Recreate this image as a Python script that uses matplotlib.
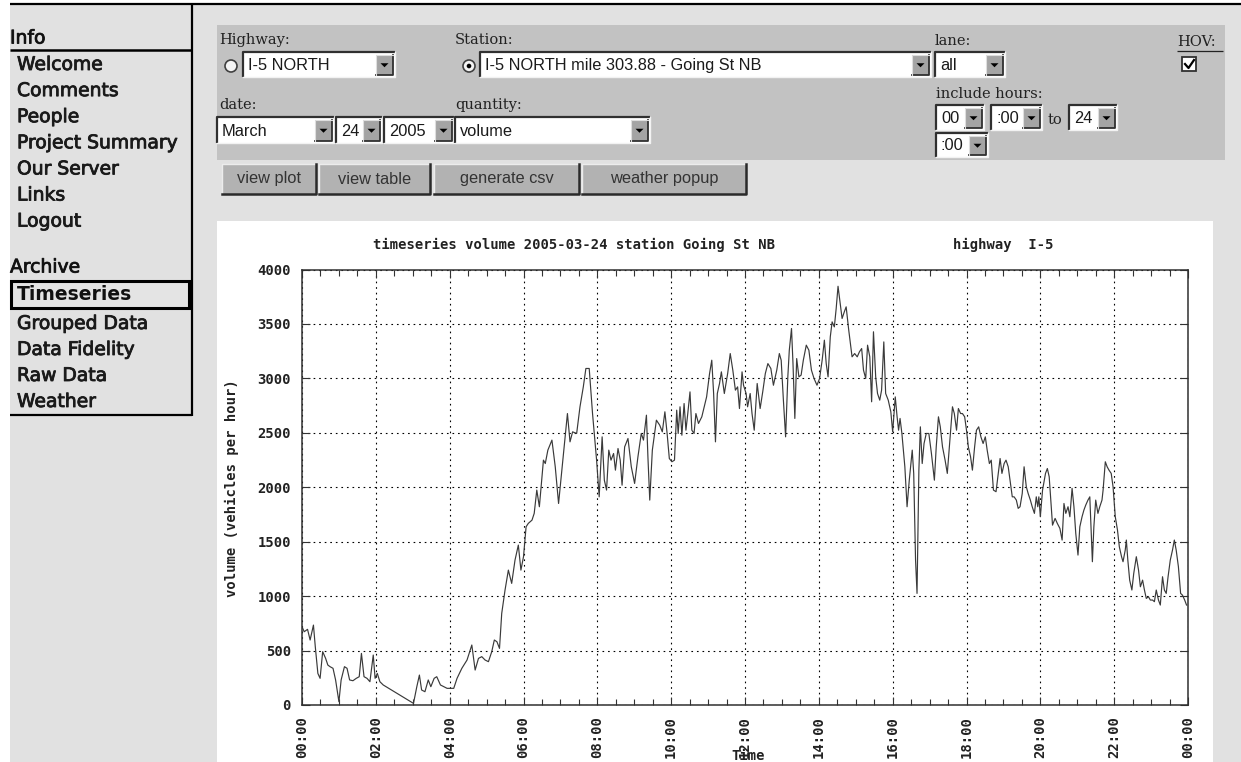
import numpy as np
import matplotlib
matplotlib.use("Agg")
import matplotlib.pyplot as plt
import matplotlib.patheffects as pe
from matplotlib.patches import Rectangle, Circle, Polygon

# ---- time series: hour of day / vehicles per hour
hours = [0.00, 0.06, 0.15, 0.22, 0.31, 0.36, 0.43, 0.49, 0.56, 0.64, 0.70, 0.76, 0.84, 0.91,
         1.00, 1.06, 1.15, 1.22, 1.29, 1.38, 1.47, 1.55, 1.61, 1.68, 1.76, 1.84, 1.93, 1.98,
         2.04, 2.11, 2.20, 3.02, 3.11, 3.18, 3.24, 3.33, 3.42, 3.49, 3.58, 3.65, 3.75, 3.84,
         3.93, 4.02, 4.11, 4.20, 4.33, 4.47, 4.60, 4.69, 4.78, 4.87, 4.96, 5.05, 5.14, 5.21,
         5.28, 5.35, 5.41, 5.50, 5.59, 5.68, 5.77, 5.86, 5.93, 6.00, 6.07, 6.13, 6.23, 6.29,
         6.36, 6.43, 6.54, 6.59, 6.66, 6.77, 6.86, 6.95, 7.04, 7.13, 7.19, 7.26, 7.33, 7.44,
         7.53, 7.62, 7.69, 7.78, 7.87, 7.98, 8.05, 8.13, 8.19, 8.25, 8.31, 8.37, 8.44, 8.49,
         8.56, 8.62, 8.67, 8.74, 8.83, 8.92, 9.01, 9.10, 9.19, 9.25, 9.33, 9.37, 9.42, 9.49,
         9.60, 9.69, 9.76, 9.83, 9.89, 9.95, 10.02, 10.09, 10.15, 10.19, 10.24, 10.29, 10.35,
         10.40, 10.45, 10.51, 10.56, 10.62, 10.67, 10.74, 10.83, 10.96, 11.04, 11.10, 11.15,
         11.20, 11.25, 11.31, 11.36, 11.44, 11.53, 11.60, 11.67, 11.74, 11.80, 11.85, 11.92,
         11.96, 12.03, 12.07, 12.14, 12.19, 12.25, 12.33, 12.41, 12.48, 12.55, 12.62, 12.70,
         12.77, 12.86, 12.93, 12.98, 13.04, 13.10, 13.16, 13.20, 13.26, 13.30, 13.35, 13.40,
         13.46, 13.52, 13.58, 13.66, 13.73, 13.80, 13.87, 13.95, 14.02, 14.09, 14.15, 14.20,
         14.25, 14.31, 14.36, 14.42, 14.47, 14.52, 14.58, 14.63, 14.69, 14.74, 14.81, 14.90,
         14.97, 15.04, 15.10, 15.16, 15.21, 15.27, 15.32, 15.38, 15.43, 15.48, 15.54, 15.59,
         15.65, 15.70, 15.76, 15.81, 15.88, 15.95, 16.00, 16.07, 16.12, 16.16, 16.20, 16.25,
         16.33, 16.39, 16.45, 16.53, 16.57, 16.62, 16.66, 16.71, 16.75, 16.80, 16.85, 16.91,
         16.98, 17.05, 17.13, 17.18, 17.24, 17.29, 17.35, 17.42, 17.48, 17.55, 17.62, 17.67,
         17.73, 17.78, 17.84, 17.89, 17.95, 18.00, 18.05, 18.11, 18.16, 18.22, 18.27, 18.33,
         18.39, 18.45, 18.51, 18.56, 18.62, 18.67, 18.73, 18.80, 18.85, 18.91, 18.96, 19.02,
         19.07, 19.13, 19.18, 19.24, 19.29, 19.35, 19.40, 19.45, 19.51, 19.56, 19.62, 19.67,
         19.73, 19.78, 19.84, 19.89, 19.93, 19.96, 20.00, 20.06, 20.14, 20.19, 20.24, 20.33,
         20.40, 20.46, 20.53, 20.59, 20.64, 20.69, 20.75, 20.80, 20.86, 20.91, 20.96, 21.02,
         21.07, 21.13, 21.18, 21.23, 21.29, 21.34, 21.39, 21.41, 21.45, 21.50, 21.56, 21.61,
         21.67, 21.70, 21.76, 21.81, 21.86, 21.92, 21.97, 22.03, 22.09, 22.14, 22.20, 22.24,
         22.30, 22.33, 22.37, 22.42, 22.48, 22.53, 22.60, 22.66, 22.71, 22.77, 22.82, 22.87,
         22.93, 22.98, 23.04, 23.09, 23.14, 23.20, 23.25, 23.31, 23.36, 23.41, 23.46, 23.52,
         23.58, 23.63, 23.68, 23.74, 23.80, 23.85, 23.91, 23.96]
volume = [719, 673, 695, 597, 734, 535, 290, 245, 490, 428, 367, 352, 337, 230,
          30, 230, 352, 337, 230, 223, 245, 260, 474, 260, 245, 214, 459, 245,
          290, 214, 184, 15, 168, 275, 138, 122, 230, 168, 245, 260, 184, 168,
          153, 153, 153, 245, 337, 413, 551, 321, 428, 444, 413, 398, 490, 597,
          581, 520, 841, 1056, 1239, 1117, 1331, 1469, 1239, 1362, 1637, 1668, 1698, 1760,
          1974, 1821, 2249, 2218, 2341, 2433, 2188, 1851, 2157, 2463, 2677, 2417, 2509, 2494,
          2739, 2922, 3091, 3091, 2677, 2249, 1912, 2463, 2065, 1974, 2341, 2249, 2310, 2157,
          2356, 2249, 2019, 2371, 2448, 2188, 2035, 2280, 2494, 2433, 2662, 2280, 1882, 2341,
          2616, 2570, 2509, 2693, 2494, 2264, 2234, 2249, 2708, 2494, 2739, 2478, 2769,
          2524, 2677, 2876, 2524, 2494, 2677, 2586, 2647, 2830, 3044, 3167, 2861,
          2417, 2861, 2953, 3060, 2861, 3044, 3228, 3075, 2892, 2922, 2723, 3060,
          2937, 2861, 2739, 2861, 2677, 2524, 2953, 2723, 2876, 3044, 3136, 3091,
          2937, 3075, 3228, 3167, 2800, 2463, 3014, 3259, 3458, 3136, 2632, 3182,
          3014, 3030, 3167, 3305, 3259, 3075, 2999, 2937, 2999, 3167, 3351, 3136,
          3014, 3381, 3519, 3473, 3642, 3846, 3687, 3550, 3611, 3657, 3443, 3198,
          3228, 3198, 3244, 3274, 3075, 2999, 3305, 3198, 2785, 3428, 3014, 2861,
          2800, 2892, 3335, 2861, 2800, 2693, 2509, 2830, 2647, 2524, 2632, 2494,
          2188, 1821, 2065, 2341, 2127, 1331, 1025, 2157, 2555, 2218, 2402, 2494,
          2494, 2310, 2065, 2371, 2647, 2555, 2371, 2249, 2127, 2433, 2739, 2677,
          2524, 2723, 2677, 2677, 2647, 2524, 2371, 2280, 2157, 2371, 2524, 2555,
          2463, 2402, 2463, 2341, 2218, 2249, 1974, 1959, 2096, 2264, 2127, 2218,
          2249, 2188, 2065, 1912, 1912, 1882, 1806, 1821, 1943, 2188, 2004, 1943,
          1882, 1821, 1760, 1912, 1821, 1912, 1729, 1974, 2127, 2172, 2096, 1652,
          1714, 1668, 1622, 1515, 1851, 1760, 1821, 1729, 1990, 1821, 1576, 1377,
          1637, 1729, 1790, 1836, 1882, 1912, 1499, 1316, 1637, 1882, 1760, 1821,
          1882, 1974, 2234, 2188, 2157, 2127, 2004, 1729, 1606, 1453, 1362, 1316,
          1423, 1515, 1331, 1147, 1056, 1208, 1362, 1239, 1086, 1147, 1056, 979,
          994, 964, 964, 949, 1056, 964, 918, 1178, 1056, 1025, 1178, 1331,
          1423, 1515, 1423, 1270, 1025, 1009, 964, 918]

xtick_hours = list(range(0, 25, 2))
xtick_labels = ["%02d:00" % (h % 24) for h in xtick_hours]
ytick_values = list(range(0, 4001, 500))
plot_title = "timeseries volume 2005-03-24 station Going St NB"
plot_highway = "highway  I-5"

menu_info = ["Welcome", "Comments", "People", "Project Summary", "Our Server", "Links", "Logout"]
menu_archive = ["Timeseries", "Grouped Data", "Data Fidelity", "Raw Data", "Weather"]
button_labels = ["view plot", "view table", "generate csv", "weather popup"]

PAGE = "#e1e1e1"
PANEL = "#c2c2c2"
W, H = 1241, 762

fig = plt.figure(figsize=(W / 100, H / 100), dpi=100, facecolor="white")
bg = fig.add_axes([0, 0, 1, 1])
bg.set_xlim(0, W)
bg.set_ylim(H, 0)
bg.axis("off")

SANS = ["DejaVu Sans"]
ARIAL = ["Liberation Sans", "DejaVu Sans"]
SERIF = ["DejaVu Serif"]
MONO = ["DejaVu Sans Mono"]
# scanned menu text looks a bit heavier than the plain face
heavy = [pe.withStroke(linewidth=0.6, foreground="#1a1a1a")]


def hline(x0, x1, y, c="black", lw=1.4):
    bg.plot([x0, x1], [y, y], color=c, lw=lw, solid_capstyle="butt")


def vline(x, y0, y1, c="black", lw=1.4):
    bg.plot([x, x], [y0, y1], color=c, lw=lw, solid_capstyle="butt")


# page background
bg.add_patch(Rectangle((10, 4), W - 10, H - 4, facecolor=PAGE, edgecolor="none"))
hline(10, W, 4, lw=1.6)
vline(192, 4, 416, lw=1.6)

# ---- left menu
bg.text(10, 38, "Info", fontsize=13.5, family=SANS, va="center", color="#111", path_effects=heavy)
hline(10, 192, 50, lw=1.8)
for i, item in enumerate(menu_info):
    bg.text(17, 64.5 + i * 26.1, item, fontsize=13.5, family=SANS, va="center",
            color="#1a1a1a", path_effects=heavy)
bg.text(10, 267, "Archive", fontsize=13.5, family=SANS, va="center", color="#111", path_effects=heavy)
bg.add_patch(Rectangle((11, 281), 178, 27, facecolor="#e4e4e4", edgecolor="black", lw=2.2))
bg.text(17, 295, menu_archive[0], fontsize=13.5, family=SANS, va="center", color="#111",
        fontweight="bold")
for i, item in enumerate(menu_archive[1:]):
    bg.text(17, 323.5 + i * 26, item, fontsize=13.5, family=SANS, va="center",
            color="#1a1a1a", path_effects=heavy)
hline(10, 192, 415, lw=1.6)

# ---- form panel
bg.add_patch(Rectangle((217, 25), 1008, 135, facecolor=PANEL, edgecolor="none"))


def label(x, y, s):
    bg.text(x, y, s, fontsize=10.5, family=SERIF, va="baseline", ha="left", color="#222")


def select_box(x0, x1, y0, y1, s):
    bg.add_patch(Rectangle((x0, y0), x1 - x0, y1 - y0, facecolor="white", edgecolor="none"))
    bg.plot([x0, x0, x1], [y1, y0, y0], color="#303030", lw=1.6, solid_capstyle="butt")
    bg.plot([x0, x1, x1], [y1, y1, y0], color="#f2f2f2", lw=1.0)
    aw = 17
    ax0, ay0, ay1 = x1 - aw - 2, y0 + 2.5, y1 - 2
    bg.add_patch(Rectangle((ax0, ay0), aw, ay1 - ay0, facecolor="#a4a4a4", edgecolor="none"))
    bg.plot([ax0, ax0 + aw, ax0 + aw], [ay1, ay1, ay0], color="#303030", lw=1.3)
    bg.plot([ax0, ax0, ax0 + aw], [ay1, ay0, ay0], color="#dedede", lw=0.8)
    cx, cy = ax0 + aw / 2, (ay0 + ay1) / 2
    bg.add_patch(Polygon([(cx - 4, cy - 1.5), (cx + 4, cy - 1.5), (cx, cy + 2.5)],
                         closed=True, facecolor="black", edgecolor="none"))
    bg.text(x0 + 5, (y0 + y1) / 2 + 1, s, fontsize=11.8, family=ARIAL, va="center",
            ha="left", color="#1a1a1a")


def radio(cx, cy, on):
    bg.add_patch(Circle((cx, cy), 6, facecolor="#f4f4f4", edgecolor="#404040", lw=1.2))
    if on:
        bg.add_patch(Circle((cx, cy), 2.3, facecolor="black", edgecolor="none"))


label(219, 44, "Highway:")
label(455, 44, "Station:")
label(935, 45, "lane:")
label(1177, 46, "HOV:")
hline(1177, 1223, 50.5, c="#222", lw=0.9)
radio(231, 66, False)
select_box(243, 395, 52, 77, "I-5 NORTH")
radio(469, 66, True)
select_box(480, 931, 52, 77, "I-5 NORTH mile 303.88 - Going St NB")
select_box(935, 1005, 52, 77, "all")
bg.add_patch(Rectangle((1182, 57), 14, 14, facecolor="white", edgecolor="#303030", lw=1.3))
bg.plot([1185, 1188.5, 1194], [64, 68, 60], color="black", lw=1.6)

label(219, 109, "date:")
label(455, 109, "quantity:")
label(936, 98, "include hours:")
select_box(217, 334, 117, 143, "March")
select_box(336, 382, 117, 143, "24")
select_box(384, 454, 117, 143, "2005")
select_box(455, 650, 117, 143, "volume")
select_box(936, 984, 105, 130, "00")
select_box(991, 1042, 105, 130, ":00")
label(1048, 124, "to")
select_box(1069, 1117, 105, 130, "24")
select_box(936, 988, 133, 157, ":00")

button_x = [(222, 316), (319, 430), (434, 579), (582, 746)]
for (x0, x1), s in zip(button_x, button_labels):
    y0, y1 = 164, 194
    bg.add_patch(Rectangle((x0, y0), x1 - x0, y1 - y0, facecolor="#b2b2b2", edgecolor="none"))
    bg.plot([x0, x0, x1], [y1, y0, y0], color="#ececec", lw=1.0)
    bg.plot([x0, x1, x1], [y1, y1, y0], color="#2a2a2a", lw=1.8)
    bg.text((x0 + x1) / 2, (y0 + y1) / 2, s, fontsize=11.8, family=ARIAL, ha="center",
            va="center", color="#333")

# ---- chart image
bg.add_patch(Rectangle((217, 221), 996, H - 221, facecolor="white", edgecolor="none"))
bg.text(373, 245, plot_title, fontsize=10, family=MONO, fontweight="bold", va="center", color="#222")
bg.text(953, 245, plot_highway, fontsize=10, family=MONO, fontweight="bold", va="center", color="#222")
bg.text(232, 488, "volume (vehicles per hour)", fontsize=10, family=MONO, fontweight="bold",
        rotation=90, ha="center", va="center", color="#222")
bg.text(748, 756, "Time", fontsize=10, family=MONO, fontweight="bold", ha="center",
        va="center", color="#222")

ax = fig.add_axes([302 / W, 1 - 705 / H, (1188 - 302) / W, (705 - 269.5) / H])
ax.set_facecolor("white")
ax.plot(hours, volume, color="#3a3a3a", lw=0.85)
ax.set_xlim(0, 24)
ax.set_ylim(0, 4000)
ax.set_xticks(xtick_hours)
ax.set_xticklabels(xtick_labels, rotation=90, family=MONO, fontweight="bold", fontsize=10, color="#222")
ax.set_xticks(np.arange(0, 24.01, 0.5), minor=True)
ax.set_yticks(ytick_values)
ax.set_yticklabels([str(v) for v in ytick_values], family=MONO, fontweight="bold", fontsize=10, color="#222")
ax.tick_params(which="both", direction="in", top=True, right=True, color="#333")
ax.tick_params(which="major", length=6, width=0.8, pad=8)
ax.tick_params(which="minor", length=4, width=0.8)
ax.grid(True, which="major", color="black", lw=0.8, linestyle=(0, (1.5, 3.5)))
for s in ax.spines.values():
    s.set_linewidth(1.1)
    s.set_color("#303030")

fig.savefig("out.png", dpi=100, facecolor="white")
